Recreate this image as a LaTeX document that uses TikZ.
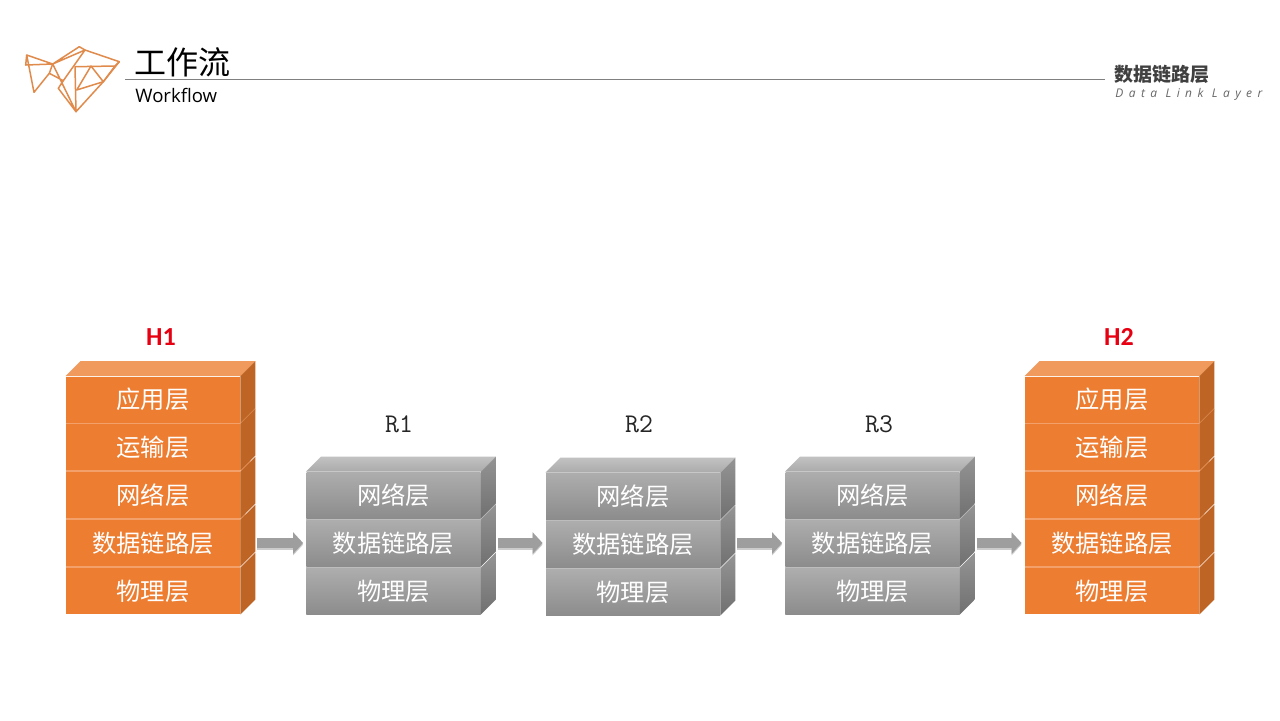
\documentclass[tikz,border=0pt]{standalone}
\usepackage{fontspec}
\setmainfont{Open Sans}
\newfontfamily\cjk{Noto Sans CJK SC}
\newfontfamily\calibri{Carlito}
\usetikzlibrary{arrows.meta}
\definecolor{orangeFace}{HTML}{ED7D31}
\definecolor{orangeDessus}{HTML}{F19A5E}
\definecolor{orangeCote}{HTML}{BE6424}
\definecolor{orangeArete}{HTML}{F4A06A}
\definecolor{orangeLogo}{HTML}{E08B4C}
\definecolor{grisArete}{HTML}{BDBDBD}
\definecolor{rouge}{HTML}{E60012}
\begin{document}
\begin{tikzpicture}[x=0.5pt,y=-0.5pt]
	\tikzstyle{couche}=[minimum width=87pt,minimum height=23pt,inner sep=0pt,text=white,font=\cjk\fontsize{12.15}{14}\selectfont]
	\tikzstyle{coucheO}=[couche,fill=orangeFace]
	\tikzstyle{coucheG}=[couche,top color=black!32,bottom color=black!45]
	\tikzstyle{dessusO}=[fill=orangeDessus]
	\tikzstyle{dessusG}=[top color=black!24,bottom color=black!33]
	\tikzstyle{coteO}=[fill=orangeCote]
	\tikzstyle{coteG}=[top color=black!42,bottom color=black!56]
	\tikzstyle{hote}=[text=rouge,font=\calibri\bfseries\fontsize{13}{15}\selectfont]
	\tikzstyle{routeur}=[font=\ttfamily\fontsize{13.5}{15}\selectfont,text=black!85]
	\tikzstyle{fleche}=[-{Triangle[length=5pt,width=10.5pt]},line width=5pt,shorten <=8.5pt,shorten >=1.5pt]
	\tikzstyle{logo}=[draw=orangeLogo,line width=0.75pt,line join=round]
	% cote et dessus d'une couche
	\def\Flanc#1#2{
		\path[#2] (#1.north east) -- ++(15,-15) -- ([shift={(15,-15)}]#1.south east) -- (#1.south east) -- cycle;
	}
	\def\Dessus#1#2{
		\path[#2] (#1.north west) -- ++(15,-15) -- ([shift={(15,-15)}]#1.north east) -- (#1.north east) -- cycle;
	}
	\useasboundingbox (0,0) rectangle (1280,720);
	\fill[white] (0,0) rectangle (1280,720);
	% logo
	\draw[logo] (26.7,55) -- (25.7,65) -- (52.7,64) -- cycle;
	\draw[logo] (26.7,55) -- (34,92.3) -- (49.3,73.3) -- (52.7,64);
	\draw[logo] (49.3,73.3) -- (63.3,80.7) -- (58.3,88.3) -- (76,111.7) -- (52.7,64);
	\draw[logo] (52.7,64) -- (79.3,46.7) -- (85,50) -- cycle;
	\draw[logo] (85,50) -- (119.3,61.7) -- (115,66) -- (103.3,81.7) -- (76,111.7) -- (75,66.7) -- (115,66);
	\draw[logo] (119.3,61.7) -- (103.3,81.7) -- (76.7,90) -- (91,66) -- (103.3,81.7);
	\draw[logo] (85,50) -- (63.3,80.7);
	% titre
	\node[anchor=west,inner sep=0pt,font=\cjk\fontsize{16}{18}\selectfont] (Titre) at (134,62) {工作流};
	\node[anchor=west,inner sep=0pt,font=\fontsize{9.3}{11}\selectfont] (SousTitre) at (135,95) {Workflow};
	\node[anchor=west,inner sep=0pt,font=\cjk\bfseries\fontsize{9.5}{11}\selectfont,text=black!75] (Chapitre) at (1114,74) {数据链路层};
	\node[anchor=west,inner sep=0pt,font=\addfontfeatures{LetterSpace=45}\itshape\fontsize{6}{8}\selectfont,text=black!60] (SousChapitre) at (1115,94) {Data Link Layer};
	\coordinate (Da) at (125,79.5);
	\coordinate (Db) at (1105,79.5);
	\draw[black!50,line width=0.5pt] (Da)--(Db);
	% H1
	\fill[orangeArete] (66,378) rectangle (240,614);
	\node[coucheO] (Ha) at (153,399.5) {应用层};
	\node[coucheO] (Hb) at (153,447) {运输层};
	\node[coucheO] (Hc) at (153,495) {网络层};
	\node[coucheO] (Hd) at (153,543) {数据链路层};
	\node[coucheO] (He) at (153,591) {物理层};
	\fill[orangeArete] (Ha.south east) -- ++(15,-15) -- (He.north east) ++(15,-15) -- (He.north east) -- cycle;
	\Dessus{Ha}{dessusO}
	\Flanc{Ha}{coteO}\Flanc{Hb}{coteO}\Flanc{Hc}{coteO}\Flanc{Hd}{coteO}\Flanc{He}{coteO}
	\node[hote] (H1) at (161,337) {H1};
	% R1
	\fill[grisArete] (306,473) rectangle (481,615);
	\node[coucheG] (Ra) at (393.5,495) {网络层};
	\node[coucheG] (Rb) at (393.5,543) {数据链路层};
	\node[coucheG] (Rc) at (393.5,591) {物理层};
	\fill[grisArete] (Ra.south east) -- ++(15,-15) -- (Rc.north east) ++(15,-15) -- (Rc.north east) -- cycle;
	\Dessus{Ra}{dessusG}
	\Flanc{Ra}{coteG}\Flanc{Rb}{coteG}\Flanc{Rc}{coteG}
	\node[routeur] (R1) at (399,424) {R1};
	% R2
	\fill[grisArete] (546,474) rectangle (720,616);
	\node[coucheG] (Sa) at (633,496) {网络层};
	\node[coucheG] (Sb) at (633,544) {数据链路层};
	\node[coucheG] (Sc) at (633,592) {物理层};
	\fill[grisArete] (Sa.south east) -- ++(15,-15) -- (Sc.north east) ++(15,-15) -- (Sc.north east) -- cycle;
	\Dessus{Sa}{dessusG}
	\Flanc{Sa}{coteG}\Flanc{Sb}{coteG}\Flanc{Sc}{coteG}
	\node[routeur] (R2) at (639,424) {R2};
	% R3
	\fill[grisArete] (785,473) rectangle (960,615);
	\node[coucheG] (Ta) at (872.5,495) {网络层};
	\node[coucheG] (Tb) at (872.5,543) {数据链路层};
	\node[coucheG] (Tc) at (872.5,591) {物理层};
	\fill[grisArete] (Ta.south east) -- ++(15,-15) -- (Tc.north east) ++(15,-15) -- (Tc.north east) -- cycle;
	\Dessus{Ta}{dessusG}
	\Flanc{Ta}{coteG}\Flanc{Tb}{coteG}\Flanc{Tc}{coteG}
	\node[routeur] (R3) at (879,424) {R3};
	% H2
	\fill[orangeArete] (1025,378) rectangle (1199,614);
	\node[coucheO] (Ka) at (1112,399.5) {应用层};
	\node[coucheO] (Kb) at (1112,447) {运输层};
	\node[coucheO] (Kc) at (1112,495) {网络层};
	\node[coucheO] (Kd) at (1112,543) {数据链路层};
	\node[coucheO] (Ke) at (1112,591) {物理层};
	\fill[orangeArete] (Ka.south east) -- ++(15,-15) -- (Ke.north east) ++(15,-15) -- (Ke.north east) -- cycle;
	\Dessus{Ka}{dessusO}
	\Flanc{Ka}{coteO}\Flanc{Kb}{coteO}\Flanc{Kc}{coteO}\Flanc{Kd}{coteO}\Flanc{Ke}{coteO}
	\node[hote] (H2) at (1119,337) {H2};
	% fleches
	\draw[fleche,black!20,transform canvas={yshift=-0.8pt}] (Hd.east)--(Rb.west);
	\draw[fleche,black!38] (Hd.east)--(Rb.west);
	\draw[fleche,black!20,transform canvas={yshift=-0.8pt}] (Rb.east)--(Sb.west |- Rb);
	\draw[fleche,black!38] (Rb.east)--(Sb.west |- Rb);
	\draw[fleche,black!20,transform canvas={yshift=-0.8pt}] (Sb.east |- Tb)--(Tb.west);
	\draw[fleche,black!38] (Sb.east |- Tb)--(Tb.west);
	\draw[fleche,black!20,transform canvas={yshift=-0.8pt}] (Tb.east)--(Kd.west);
	\draw[fleche,black!38] (Tb.east)--(Kd.west);
\end{tikzpicture}
\end{document}
